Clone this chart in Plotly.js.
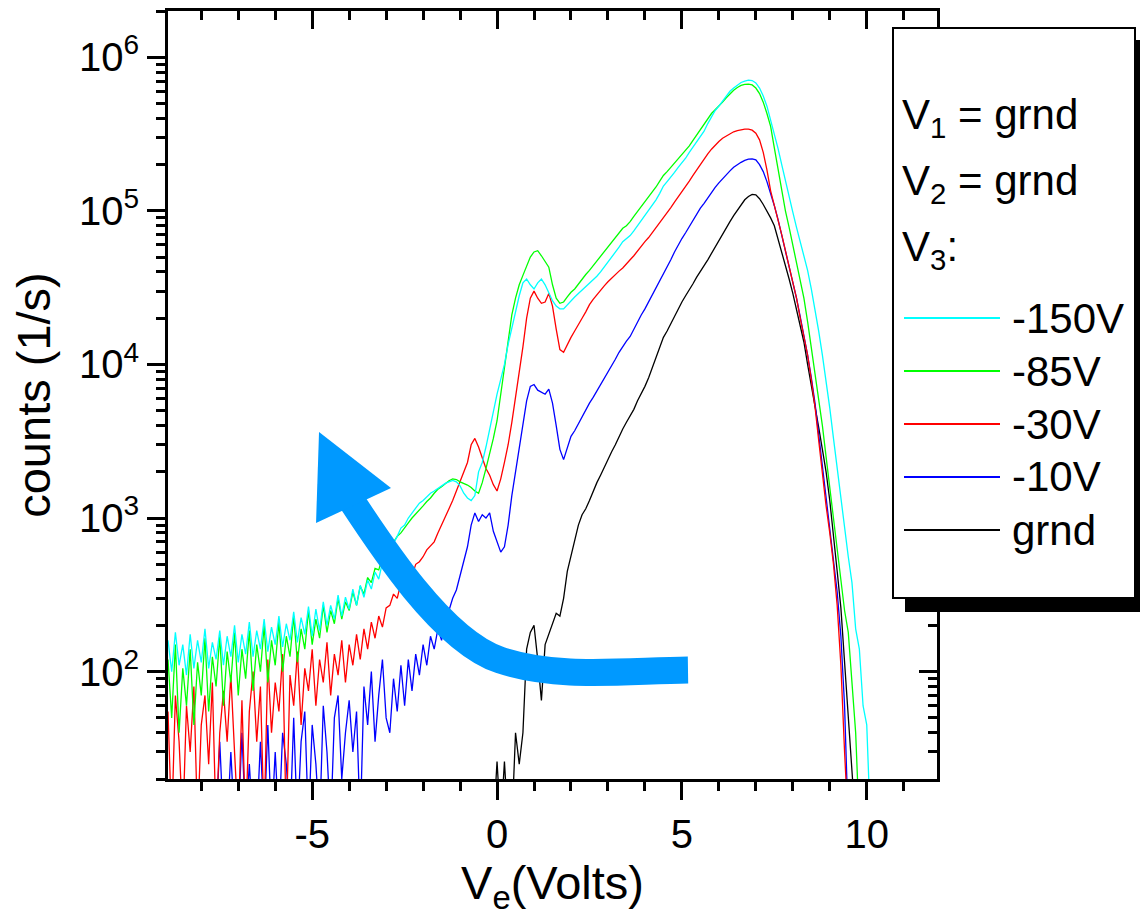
<!DOCTYPE html>
<html>
<head>
<meta charset="utf-8">
<script src="https://cdn.plot.ly/plotly-3.0.1.min.js"></script>
<style>
  html, body { margin: 0; padding: 0; background: #ffffff; }
  #chart { width: 1140px; height: 920px; }
</style>
</head>
<body>
<div id="chart"></div>
<script>
// ---------------- DATA ----------------
// electron energy V_e (Volts), shared grid for the four biased runs
const volts = [
  -8.9,-8.8,-8.7,-8.6,-8.5,-8.4,-8.3,-8.2,-8.1,-8.0,
  -7.9,-7.8,-7.7,-7.6,-7.5,-7.4,-7.3,-7.2,-7.1,-7.0,
  -6.9,-6.8,-6.7,-6.6,-6.5,-6.4,-6.3,-6.2,-6.1,-6.0,
  -5.9,-5.8,-5.7,-5.6,-5.5,-5.4,-5.3,-5.2,-5.1,-5.0,
  -4.9,-4.8,-4.7,-4.6,-4.5,-4.4,-4.3,-4.2,-4.1,-4.0,
  -3.9,-3.8,-3.7,-3.6,-3.5,-3.4,-3.3,-3.2,-3.1,-3.0,
  -2.9,-2.8,-2.7,-2.6,-2.5,-2.4,-2.3,-2.2,-2.1,-2.0,
  -1.9,-1.8,-1.7,-1.6,-1.5,-1.4,-1.3,-1.2,-1.1,-1.0,
  -0.9,-0.8,-0.7,-0.6,-0.5,-0.4,-0.3,-0.2,-0.1,
  0.0,0.1,0.2,0.3,0.4,0.5,0.6,0.7,0.8,0.9,
  1.0,1.1,1.2,1.3,1.4,1.5,1.6,1.7,1.8,1.9,
  2.0,2.1,2.2,2.3,2.4,2.5,2.6,2.7,2.8,2.9,
  3.0,3.1,3.2,3.3,3.4,3.5,3.6,3.7,3.8,3.9,
  4.0,4.1,4.2,4.3,4.4,4.5,4.6,4.7,4.8,4.9,
  5.0,5.1,5.2,5.3,5.4,5.5,5.6,5.7,5.8,5.9,
  6.0,6.1,6.2,6.3,6.4,6.5,6.6,6.7,6.8,6.9,
  7.0,7.1,7.2,7.3,7.4,7.5,7.6,7.7,7.8,7.9,
  8.0,8.1,8.2,8.3,8.4,8.5,8.6,8.7,8.8,8.9,
  9.0,9.1,9.2,9.3,9.4,9.5,9.6,9.7,9.8,9.9,
  10.0,10.1,10.2
];

// V3 = -150V (cyan)
const counts150 = [
  160,100,180,110,150,95,175,105,160,115,
  190,105,155,120,185,110,170,125,200,115,
  175,130,210,125,185,140,220,135,195,150,
  230,145,205,160,245,155,225,175,265,170,
  255,185,285,200,270,220,315,230,305,255,
  345,270,365,305,395,345,445,400,515,520,
  620,680,760,860,900,1000,1080,1150,1250,1300,
  1380,1450,1500,1560,1620,1680,1720,1760,1720,1620,
  1450,1350,1300,1400,2000,2300,2900,3800,5000,
  6400,8000,10000,13500,17500,22000,28000,34000,36000,33000,
  31000,34000,36000,33000,29000,26000,24000,23000,23000,24500,
  26000,27500,29000,30500,32000,33500,35500,37500,40000,43000,
  46000,50000,54000,58000,63000,66000,69000,74000,80000,86000,
  93000,100000,108000,118000,130000,145000,155000,165000,178000,192000,
  205000,220000,240000,260000,285000,310000,330000,370000,410000,450000,
  480000,520000,560000,600000,630000,660000,685000,700000,710000,705000,
  680000,630000,560000,480000,390000,320000,255000,200000,155000,122000,
  98000,78000,62000,50000,41000,31000,23000,16500,11500,7800,
  5200,3300,2100,1300,850,560,380,190,140,60,
  45,10,10
];

// V3 = -85V (green)
const counts85 = [
  120,50,150,40,105,60,140,45,115,70,
  165,55,125,80,170,60,135,85,180,70,
  140,90,185,75,150,100,200,85,160,110,
  210,100,170,125,230,115,190,140,250,150,
  220,165,270,180,250,205,300,220,285,250,
  330,270,360,320,410,380,470,460,550,570,
  640,700,760,800,870,930,1000,1060,1120,1200,
  1280,1350,1450,1540,1600,1680,1750,1800,1780,1720,
  1680,1640,1580,1500,1450,1700,2100,2600,3300,
  4300,6500,9500,15000,21000,27000,33000,38000,44000,50000,
  54000,55000,51000,47000,43000,33000,27000,25000,25500,27500,
  29500,31000,33500,36000,38500,41000,44000,47500,51000,55000,
  59000,63000,67000,72000,77000,80000,85000,92000,99000,106000,
  113000,122000,132000,143000,156000,170000,180000,192000,205000,218000,
  232000,248000,265000,288000,312000,340000,370000,400000,430000,455000,
  480000,510000,545000,580000,610000,635000,655000,665000,668000,660000,
  630000,580000,510000,430000,355000,257000,186000,132000,100000,78000,
  60000,47000,37000,27000,19000,13000,8800,6000,4000,2500,
  1600,1000,640,420,250,180,90,40,10,10,
  10,10,10
];

// V3 = -30V (red)
const counts30 = [
  55,10,70,35,10,60,30,80,10,45,
  70,25,85,10,40,75,35,95,30,10,
  65,10,55,100,35,80,10,120,40,85,
  55,130,10,95,60,135,45,105,75,140,
  60,120,85,155,70,130,95,160,85,150,
  110,175,120,190,140,210,165,230,195,260,
  270,320,300,380,360,430,420,500,520,560,
  620,660,700,800,900,1000,1150,1300,1500,1700,
  1950,2300,3000,3300,2900,2500,2100,1900,1650,
  1500,1800,2300,3000,4200,6000,8500,13000,20000,27000,
  30000,27000,25000,25500,29000,24000,17000,12500,12000,13500,
  15000,16500,18000,20000,22000,24500,26500,28500,30500,32500,
  34500,36500,38500,40500,42500,45500,48000,51000,55000,59000,
  63000,67000,72000,78000,84000,90000,97000,105000,114000,123000,
  133000,144000,156000,170000,185000,200000,218000,235000,252000,268000,
  283000,297000,308000,318000,327000,333000,338000,340000,340000,335000,
  320000,290000,240000,185000,135000,110000,88000,70000,55000,44000,
  35000,27000,20000,15500,11500,8000,5300,3200,1900,1200,
  800,500,270,110,30,10,10,10,10,10,
  10,10,10
];

// V3 = -10V (blue)
const counts10 = [
  10,10,10,10,10,10,10,10,10,10,
  10,10,10,10,35,10,10,30,10,10,
  40,10,25,10,10,35,10,45,10,30,
  10,40,25,10,50,10,35,55,10,45,
  25,10,60,30,10,50,70,20,40,65,
  30,55,10,80,45,100,35,70,120,50,
  40,90,55,110,60,120,75,130,95,150,
  110,170,140,190,160,230,250,300,340,420,
  520,650,900,1080,950,1050,1000,1080,820,
  700,600,650,900,1400,2000,3000,4300,5800,7200,
  7400,6800,6600,6400,6900,5600,4000,2800,2400,2900,
  3400,3700,4100,4600,5100,5600,6100,6700,7300,8000,
  8900,9800,10800,12000,13200,14200,15200,17000,19000,21000,
  23000,25500,28500,32000,35500,39000,43000,48000,54000,60000,
  66000,72000,79000,87000,95000,104000,112000,122000,132000,142000,
  152000,162000,172000,182000,192000,200000,207000,213000,217000,218000,
  215000,200000,180000,155000,130000,108000,88000,70000,55000,44000,
  35000,27000,20500,15500,11500,8200,5600,3500,2200,1400,
  900,560,330,170,60,10,10,10,10,10,
  10,10,10
];

// V3 = grnd (black) : only recorded from -0.1 V upwards
const voltsGrnd = [
  -0.1,
  0.0,0.1,0.2,0.3,0.4,0.5,0.6,0.7,0.8,0.9,
  1.0,1.1,1.2,1.3,1.4,1.5,1.6,1.7,1.8,1.9,
  2.0,2.1,2.2,2.3,2.4,2.5,2.6,2.7,2.8,2.9,
  3.0,3.1,3.2,3.3,3.4,3.5,3.6,3.7,3.8,3.9,
  4.0,4.1,4.2,4.3,4.4,4.5,4.6,4.7,4.8,4.9,
  5.0,5.1,5.2,5.3,5.4,5.5,5.6,5.7,5.8,5.9,
  6.0,6.1,6.2,6.3,6.4,6.5,6.6,6.7,6.8,6.9,
  7.0,7.1,7.2,7.3,7.4,7.5,7.6,7.7,7.8,7.9,
  8.0,8.1,8.2,8.3,8.4,8.5,8.6,8.7,8.8,8.9,
  9.0,9.1,9.2,9.3,9.4,9.5,9.6,9.7,9.8,9.9,
  10.0,10.1,10.2
];
const countsGrnd = [
  10,
  26,10,26,10,10,40,25,40,140,180,
  200,120,65,150,175,200,240,230,300,450,
  560,720,900,1050,1150,1300,1500,1700,1900,2150,
  2450,2700,3000,3400,3800,4200,4600,5100,5800,6400,
  7200,8200,9500,11000,13000,15000,16500,18500,20500,23000,
  25500,28000,30500,33500,37000,40000,44000,48000,53000,58000,
  64000,70000,77000,85000,93000,101000,110000,118000,124000,128000,
  127000,120000,110000,100000,90000,80000,66000,54000,44000,36000,
  29000,23000,17500,14000,10000,7400,5400,3900,2800,2000,
  1300,800,450,260,120,60,25,10,10,10,
  10,10,10
];

const seriesNames  = ['-150V', '-85V', '-30V', '-10V', 'grnd'];
const seriesColors = ['#00ffff', '#00ff00', '#ff0000', '#0000ff', '#000000'];
const headerLines  = ['V<sub>1</sub> = grnd', 'V<sub>2</sub> = grnd', 'V<sub>3</sub>:'];
const xTickVals = [-5, 0, 5, 10];
const xTickText = ['-5', '0', '5', '10'];
const yTickVals = [1e2, 1e3, 1e4, 1e5, 1e6];
const yTickText = ['10<sup>2</sup>', '10<sup>3</sup>', '10<sup>4</sup>', '10<sup>5</sup>', '10<sup>6</sup>'];

// ---------------- LAYOUT HELPERS ----------------
const W = 1140, H = 920;
const L = 168, R = 937, T = 11, B = 779;      // plot area in pixels
const px = p => (p - L) / (R - L);             // pixel -> paper x
const py = p => (B - p) / (B - T);             // pixel -> paper y
const FONT = 'Liberation Sans, Arial, sans-serif';

const xRange = [-8.9, 11.9];
const yRange = [Math.log10(20), Math.log10(2e6)];

const minorY = [];
for (let d = 1; d <= 6; d++) for (let m = 2; m <= 9; m++) {
  const v = m * Math.pow(10, d);
  if (v >= 20 && v <= 2e6) minorY.push(v);
}
const minorX = [];
for (let v = -8; v <= 11; v++) if (v % 5 !== 0) minorX.push(v);

// ---------------- TRACES ----------------
const xs = [volts, volts, volts, volts, voltsGrnd];
const ys = [counts150, counts85, counts30, counts10, countsGrnd];
const drawOrder = [4, 3, 2, 1, 0];
const traces = drawOrder.map(i => ({
  type: 'scatter', mode: 'lines',
  x: xs[i], y: ys[i], name: seriesNames[i],
  line: { color: seriesColors[i], width: 1.3 },
  showlegend: false, hoverinfo: 'skip'
}));
// empty trace that activates the mirrored (inside-tick) top/right axes
traces.push({ type: 'scatter', mode: 'lines', x: [], y: [], xaxis: 'x2', yaxis: 'y2',
  showlegend: false, hoverinfo: 'skip' });

// ---------------- SHAPES ----------------
const arrowColor = '#0099ff';
const P = (x, y) => px(x).toFixed(4) + ',' + py(y).toFixed(4);
const shapes = [
  // curved arrow body
  { type: 'path', xref: 'paper', yref: 'paper', layer: 'above',
    path: 'M' + P(338, 480) + ' C' + P(383, 550) + ' ' + P(443, 641) + ' ' + P(500, 660) +
          ' C' + P(557, 679) + ' ' + P(620, 671) + ' ' + P(688, 670),
    line: { color: arrowColor, width: 27 }, fillcolor: 'rgba(0,0,0,0)' },
  // arrow head
  { type: 'path', xref: 'paper', yref: 'paper', layer: 'above',
    path: 'M' + P(319, 432) + ' L' + P(316, 523) + ' L' + P(391, 488) + ' Z',
    line: { width: 0 }, fillcolor: arrowColor },
  // legend shadow
  { type: 'rect', xref: 'paper', yref: 'paper', layer: 'above',
    x0: px(905), x1: px(1141), y0: py(40), y1: py(612),
    line: { width: 0 }, fillcolor: '#000000' },
  // legend box
  { type: 'rect', xref: 'paper', yref: 'paper', layer: 'above',
    x0: px(893), x1: px(1135), y0: py(28), y1: py(598),
    line: { width: 2, color: '#000000' }, fillcolor: '#ffffff' }
];

const annotations = [];
const headerY = [117, 183, 250];
headerLines.forEach((t, k) => annotations.push({
  xref: 'paper', yref: 'paper', x: px(900), y: py(headerY[k]),
  xanchor: 'left', yanchor: 'middle', showarrow: false, text: t,
  font: { family: FONT, size: 42, color: '#000' }
}));
const rowY = [318, 371, 424, 477, 530];
seriesNames.forEach((n, k) => {
  shapes.push({ type: 'line', xref: 'paper', yref: 'paper', layer: 'above',
    x0: px(904), x1: px(1000), y0: py(rowY[k]), y1: py(rowY[k]),
    line: { color: seriesColors[k], width: 2 } });
  annotations.push({
    xref: 'paper', yref: 'paper', x: px(1010), y: py(rowY[k]),
    xanchor: 'left', yanchor: 'middle', showarrow: false, text: n,
    font: { family: FONT, size: 42, color: '#000' }
  });
});

// ---------------- AXES ----------------
const axisCommon = {
  showgrid: false, zeroline: false, showline: true, linecolor: '#000', linewidth: 3,
  tickcolor: '#000', tickwidth: 3, ticklen: 18,
  tickfont: { family: FONT, size: 40, color: '#000' }
};

const layout = {
  width: W, height: H,
  margin: { l: L, r: W - R, t: T, b: H - B, pad: 0 },
  paper_bgcolor: '#ffffff', plot_bgcolor: '#ffffff',
  font: { family: FONT, color: '#000' },
  showlegend: false,
  xaxis: Object.assign({}, axisCommon, {
    range: xRange, tickmode: 'array', tickvals: xTickVals, ticktext: xTickText, ticks: 'outside',
    minor: { tickmode: 'array', tickvals: minorX, ticks: 'outside', ticklen: 9, tickwidth: 3, tickcolor: '#000' },
    title: { text: 'V<sub>e</sub>(Volts)', font: { family: FONT, size: 47, color: '#000' }, standoff: 12 }
  }),
  yaxis: Object.assign({}, axisCommon, {
    type: 'log', range: yRange, tickmode: 'array', tickvals: yTickVals, ticktext: yTickText,
    ticks: 'outside',
    minor: { tickmode: 'array', tickvals: minorY, ticks: 'outside', ticklen: 9, tickwidth: 3, tickcolor: '#000' },
    title: { text: 'counts (1/s)', font: { family: FONT, size: 47, color: '#000' }, standoff: 14 }
  }),
  xaxis2: {
    overlaying: 'x', side: 'top', anchor: 'y', range: xRange, showgrid: false, zeroline: false,
    showline: true, linecolor: '#000', linewidth: 3, showticklabels: false,
    tickmode: 'array', tickvals: xTickVals, ticks: 'inside', ticklen: 18, tickwidth: 3, tickcolor: '#000',
    minor: { tickmode: 'array', tickvals: minorX, ticks: 'inside', ticklen: 9, tickwidth: 3, tickcolor: '#000' }
  },
  yaxis2: {
    overlaying: 'y', side: 'right', anchor: 'x', type: 'log', range: yRange, showgrid: false, zeroline: false,
    showline: true, linecolor: '#000', linewidth: 3, showticklabels: false,
    tickmode: 'array', tickvals: yTickVals, ticks: 'inside', ticklen: 18, tickwidth: 3, tickcolor: '#000',
    minor: { tickmode: 'array', tickvals: minorY, ticks: 'inside', ticklen: 9, tickwidth: 3, tickcolor: '#000' }
  },
  shapes: shapes,
  annotations: annotations
};

Plotly.newPlot('chart', traces, layout, { displayModeBar: false });
</script>
</body>
</html>
